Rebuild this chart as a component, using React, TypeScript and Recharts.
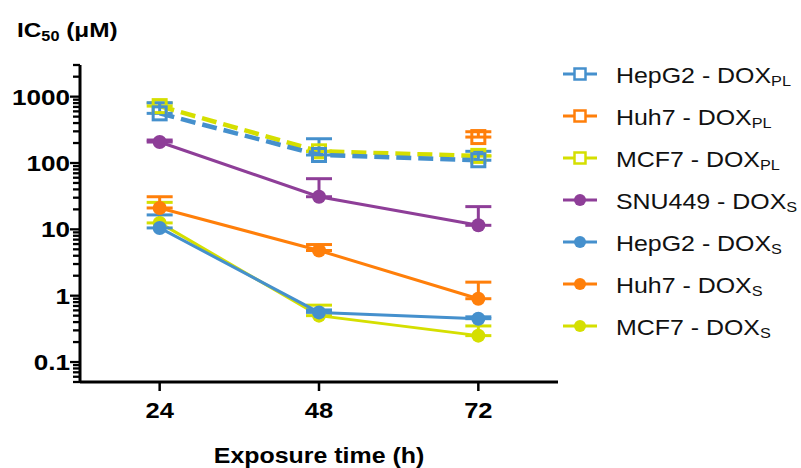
import React from "react";
import { LineChart, Line, XAxis, YAxis, ErrorBar } from "recharts";

// exposure times (h)
const hours = [24, 48, 72];

// IC50 values (µM), one entry per exposure time
const hepg2PL = [560, 132, 110];
const hepg2PLErr = [250, 100, 40];
const huh7PL = [null, null, 246];
const huh7PLErr = [null, null, 50];
const mcf7PL = [720, 150, 128];
const mcf7PLErr = [80, 0, 0];
const snu449S = [207, 31, 11.5];
const snu449SErr = [15, 27, 10.5];
const hepg2S = [10.5, 0.56, 0.45];
const hepg2SErr = [6, 0.05, 0.03];
const huh7S = [21, 4.8, 0.9];
const huh7SErr = [10, 1.1, 0.7];
const mcf7S = [12.5, 0.5, 0.25];
const mcf7SErr = [13, 0.22, 0.1];

const xTicks = [24, 48, 72];
const yMajor = [0.1, 1, 10, 100, 1000];
const yDecades = [0.01, 0.1, 1, 10, 100, 1000];
const yMultipliers = [1, 2, 3, 4, 5, 6, 7, 8, 9];

const BLUE = "#4590CD";
const ORANGE = "#FF7F0A";
const YELLOW = "#D5DF00";
const PURPLE = "#8E3E98";

const FONT = "'Liberation Sans', Arial, Helvetica, sans-serif";
const SX = 1.16; // the figure's text is a little stretched horizontally

const series = [
  { name: "HepG2 - DOX", sub: "PL", color: BLUE, values: hepg2PL, errors: hepg2PLErr, dashed: true },
  { name: "Huh7 - DOX", sub: "PL", color: ORANGE, values: huh7PL, errors: huh7PLErr, dashed: true },
  { name: "MCF7 - DOX", sub: "PL", color: YELLOW, values: mcf7PL, errors: mcf7PLErr, dashed: true },
  { name: "SNU449 - DOX", sub: "S", color: PURPLE, values: snu449S, errors: snu449SErr, dashed: false },
  { name: "HepG2 - DOX", sub: "S", color: BLUE, values: hepg2S, errors: hepg2SErr, dashed: false },
  { name: "Huh7 - DOX", sub: "S", color: ORANGE, values: huh7S, errors: huh7SErr, dashed: false },
  { name: "MCF7 - DOX", sub: "S", color: YELLOW, values: mcf7S, errors: mcf7SErr, dashed: false },
];

// painting order (last one on top)
const drawOrder = [6, 4, 5, 3, 2, 1, 0];

// log ticks: decades get labels, the rest are minor marks
const yTicks = yDecades
  .flatMap(d => yMultipliers.map(m => +(d * m).toPrecision(3)))
  .filter(v => v >= 0.05 && v <= 3000);

const YTick = (props: any) => {
  const { x, y, payload } = props;
  const v = Number(payload.value);
  const major = yMajor.some(m => Math.abs(m - v) < 1e-9);
  return (
    <g>
      <line x1={x - (major ? 10 : 7)} x2={x} y1={y} y2={y} stroke="#000" strokeWidth={2.3} />
      {major && (
        <g transform={`translate(${x - 10},${y}) scale(${SX},1)`}>
          <text x={0} y={0} dy="0.36em" textAnchor="end" fill="#000" fontSize={22.5} fontWeight="bold" fontFamily={FONT}>
            {String(v)}
          </text>
        </g>
      )}
    </g>
  );
};

const XTick = (props: any) => {
  const { x, y, payload } = props;
  return (
    <g transform={`translate(${x},${y}) scale(${SX},1)`}>
      <text x={0} y={0} dy="0.71em" textAnchor="middle" fill="#000" fontSize={22} fontWeight="bold" fontFamily={FONT}>
        {payload.value}
      </text>
    </g>
  );
};

const SquareDot = (color: string) => (props: any) => {
  const { cx, cy, index } = props;
  if (cx == null || cy == null) return <g key={index} />;
  return <rect key={index} x={cx - 6.5} y={cy - 6.5} width={13} height={13} fill="none" stroke={color} strokeWidth={3} />;
};

export default function App() {
  const lineData = series.map(s =>
    hours
      .map((h, i) => (s.values[i] == null ? null : { h, v: s.values[i], e: [0, s.errors[i]] }))
      .filter(Boolean)
  );

  return (
    <div style={{ position: "absolute", left: 0, top: 0, width: 801, height: 468, background: "#fff", fontFamily: FONT }}>
      <LineChart width={801} height={468} margin={{ top: 65, right: 243, bottom: 0, left: 0 }}>
        <XAxis
          dataKey="h"
          type="number"
          domain={[12, 84]}
          ticks={xTicks}
          height={86}
          tickSize={9}
          tickMargin={11}
          axisLine={{ stroke: "#000", strokeWidth: 3 }}
          tickLine={{ stroke: "#000", strokeWidth: 2.5 }}
          tick={<XTick />}
          allowDuplicatedCategory={false}
        />
        <YAxis
          type="number"
          scale="log"
          domain={[0.05, 3000]}
          ticks={yTicks}
          interval={0}
          allowDataOverflow
          width={80}
          tickSize={0}
          tickMargin={0}
          tickLine={false}
          axisLine={{ stroke: "#000", strokeWidth: 3 }}
          tick={<YTick />}
        />
        {drawOrder.map(idx => {
          const s = series[idx];
          return (
            <Line
              key={idx}
              data={lineData[idx] as any[]}
              dataKey="v"
              type="linear"
              stroke={s.color}
              strokeWidth={s.dashed ? 4.5 : 3}
              strokeDasharray={s.dashed ? "15 7" : undefined}
              dot={s.dashed ? SquareDot(s.color) : { r: 7, fill: s.color, stroke: s.color, strokeWidth: 0 }}
              activeDot={false}
              isAnimationActive={false}
              legendType="none"
            >
              <ErrorBar dataKey="e" direction="y" width={13} strokeWidth={3} stroke={s.color} />
            </Line>
          );
        })}
      </LineChart>

      <svg width={801} height={468} style={{ position: "absolute", left: 0, top: 0, pointerEvents: "none" }} fontFamily={FONT}>
        <g transform={`translate(17,37) scale(${SX},1)`}>
          <text x={0} y={0} fontSize={21} fontWeight="bold" fill="#000">
            IC<tspan fontSize={14} dy={4}>50</tspan>
            <tspan dy={-4}> (μM)</tspan>
          </text>
        </g>

        <g transform={`translate(319,463) scale(${SX},1)`}>
          <text x={0} y={0} textAnchor="middle" fontSize={21.5} fontWeight="bold" fill="#000">
            Exposure time (h)
          </text>
        </g>

        {series.map((s, i) => {
          const cy = 74 + i * 42;
          return (
            <g key={i}>
              <line x1={563} x2={597} y1={cy} y2={cy} stroke={s.color} strokeWidth={3} />
              {s.dashed ? (
                <rect x={574.5} y={cy - 5.5} width={11} height={11} fill="#fff" stroke={s.color} strokeWidth={2.5} />
              ) : (
                <circle cx={580} cy={cy} r={6} fill={s.color} />
              )}
              <g transform={`translate(616,${cy + 9}) scale(${SX},1)`}>
                <text x={0} y={0} fontSize={21.5} fill="#111">
                  {s.name}
                  <tspan fontSize={14} dy={3}>{s.sub}</tspan>
                </text>
              </g>
            </g>
          );
        })}
      </svg>
    </div>
  );
}
